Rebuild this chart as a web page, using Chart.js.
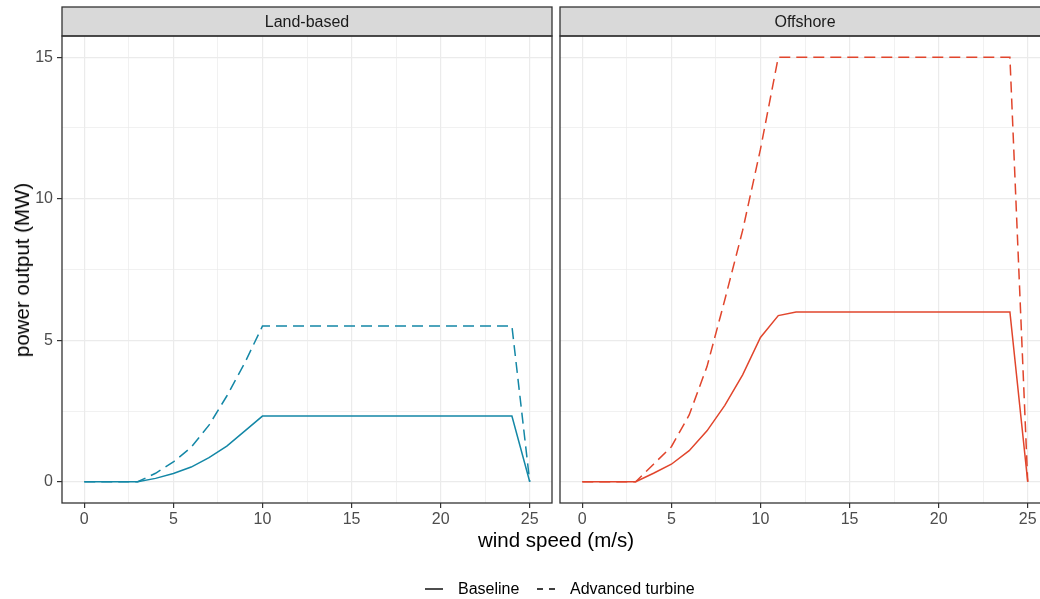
<!DOCTYPE html>
<html>
<head>
<meta charset="utf-8">
<script src="https://cdn.jsdelivr.net/npm/chart.js@4/dist/chart.umd.min.js"></script>
<style>
  html, body { margin: 0; padding: 0; background: #fff; }
  #wrap { position: relative; width: 1040px; height: 599px; overflow: hidden; font-family: "Liberation Sans", Arial, sans-serif; }
  .panel { position: absolute; top: 0; height: 530px; }
  #landBox { left: 0; width: 556px; }
  #offBox { left: 556px; width: 498px; }
  #ytitle { position: absolute; left: 22px; top: 270px; transform: translate(-50%, -50%) rotate(-90deg); font-size: 20.5px; color: #000; white-space: nowrap; }
  #xtitle { position: absolute; left: 556px; top: 540px; transform: translate(-50%, -50%); font-size: 20.5px; color: #000; white-space: nowrap; }
  .lg { position: absolute; top: 578px; height: 22px; line-height: 22px; font-size: 16px; color: #000; white-space: nowrap; }
  .lg svg { display: block; margin-top: 6px; }
</style>
</head>
<body>
<div id="wrap">
  <div class="panel" id="landBox"><canvas id="land"></canvas></div>
  <div class="panel" id="offBox"><canvas id="off"></canvas></div>
  <div id="ytitle">power output (MW)</div>
  <div id="xtitle">wind speed (m/s)</div>
  <div class="lg" style="left:424px"><svg width="20" height="10"><line x1="1" y1="5" x2="19" y2="5" stroke="#000" stroke-width="1.4"/></svg></div>
  <div class="lg" style="left:458px">Baseline</div>
  <div class="lg" style="left:536px"><svg width="20" height="10"><line x1="1" y1="5" x2="19" y2="5" stroke="#000" stroke-width="1.4" stroke-dasharray="6 6"/></svg></div>
  <div class="lg" style="left:570px">Advanced turbine</div>
</div>
<script>
// wind speed, m/s
var windSpeed = [0,1,2,3,4,5,6,7,8,9,10,11,12,13,14,15,16,17,18,19,20,21,22,23,24,25];

// power output, MW
var landBaseline = [0,0,0,0,0.12,0.29,0.52,0.85,1.26,1.79,2.32,2.32,2.32,2.32,2.32,2.32,2.32,2.32,2.32,2.32,2.32,2.32,2.32,2.32,2.32,0];
var landAdvanced = [0,0,0,0,0.30,0.70,1.22,2.00,3.03,4.19,5.50,5.50,5.50,5.50,5.50,5.50,5.50,5.50,5.50,5.50,5.50,5.50,5.50,5.50,5.50,0];
var offBaseline  = [0,0,0,0,0.30,0.62,1.10,1.80,2.70,3.78,5.10,5.87,6,6,6,6,6,6,6,6,6,6,6,6,6,0];
var offAdvanced  = [0,0,0,0,0.62,1.24,2.36,4.07,6.43,8.88,11.75,15,15,15,15,15,15,15,15,15,15,15,15,15,15,0];

var xTicks = [0,2.5,5,7.5,10,12.5,15,17.5,20,22.5,25];
var yTicks = [0,2.5,5,7.5,10,12.5,15];

var landColor = '#1387a6';
var offColor = '#e1452c';
var fontFam = '"Liberation Sans", Arial, sans-serif';

function pts(ys) {
  return windSpeed.map(function(x, i) { return { x: x, y: ys[i] }; });
}

function isMajor(v) { return Math.abs(v % 5) < 1e-9; }

// strip on top and full border round the panel, ggplot-like
var panelFrame = {
  id: 'panelFrame',
  afterDraw: function(chart) {
    var a = chart.chartArea, c = chart.ctx;
    c.save();
    c.fillStyle = '#d9d9d9';
    c.fillRect(a.left, 7, a.right - a.left, a.top - 7);
    c.strokeStyle = '#333333';
    c.lineWidth = 1.3;
    c.strokeRect(a.left, 7, a.right - a.left, a.top - 7);
    c.strokeRect(a.left, a.top, a.right - a.left, a.bottom - a.top);
    c.fillStyle = '#1a1a1a';
    c.font = '16px ' + fontFam;
    c.textAlign = 'center';
    c.textBaseline = 'middle';
    c.fillText(chart.options.plugins.panelFrame.title, (a.left + a.right) / 2, (a.top + 7) / 2 + 1);
    c.restore();
  }
};

function makePanel(id, title, base, adv, color, showY, widthPx) {
  var canvas = document.getElementById(id);
  canvas.style.width = widthPx + 'px';
  canvas.style.height = '530px';
  return new Chart(canvas, {
    type: 'line',
    data: {
      datasets: [
        { label: 'Baseline', data: pts(base), borderColor: color, borderWidth: 1.5, pointRadius: 0, tension: 0 },
        { label: 'Advanced turbine', data: pts(adv), borderColor: color, borderWidth: 1.5, borderDash: [11, 6], pointRadius: 0, tension: 0 }
      ]
    },
    options: {
      responsive: false,
      animation: false,
      events: [],
      layout: { padding: { top: 36, right: 4, left: showY ? 0 : 4, bottom: 0 } },
      plugins: { legend: { display: false }, tooltip: { enabled: false }, panelFrame: { title: title } },
      scales: {
        x: {
          type: 'linear', min: -1.25, max: 26.25,
          afterBuildTicks: function(s) { s.ticks = xTicks.map(function(v) { return { value: v }; }); },
          afterFit: function(s) { s.height = 27; },
          border: { display: false },
          grid: {
            color: '#ebebeb',
            lineWidth: function(ctx) { return isMajor(ctx.tick.value) ? 1.2 : 0.7; },
            tickColor: function(ctx) { return isMajor(ctx.tick.value) ? '#333333' : 'rgba(0,0,0,0)'; },
            tickLength: 5, tickWidth: 1.2
          },
          ticks: {
            autoSkip: false, maxRotation: 0, padding: 2, color: '#4d4d4d',
            font: { family: fontFam, size: 16 },
            callback: function(v) { return isMajor(v) ? v : ''; }
          }
        },
        y: {
          type: 'linear', min: -0.75, max: 15.75,
          afterBuildTicks: function(s) { s.ticks = yTicks.map(function(v) { return { value: v }; }); },
          afterFit: function(s) { s.width = showY ? 62 : 0; },
          border: { display: false },
          grid: {
            color: '#ebebeb',
            lineWidth: function(ctx) { return isMajor(ctx.tick.value) ? 1.2 : 0.7; },
            tickColor: function(ctx) { return (showY && isMajor(ctx.tick.value)) ? '#333333' : 'rgba(0,0,0,0)'; },
            drawTicks: showY,
            tickLength: 5, tickWidth: 1.2
          },
          ticks: {
            display: showY, padding: 4, color: '#4d4d4d',
            font: { family: fontFam, size: 16 },
            callback: function(v) { return isMajor(v) ? v : ''; }
          }
        }
      }
    },
    plugins: [panelFrame]
  });
}

makePanel('land', 'Land-based', landBaseline, landAdvanced, landColor, true, 556);
makePanel('off', 'Offshore', offBaseline, offAdvanced, offColor, false, 498);
</script>
</body>
</html>
